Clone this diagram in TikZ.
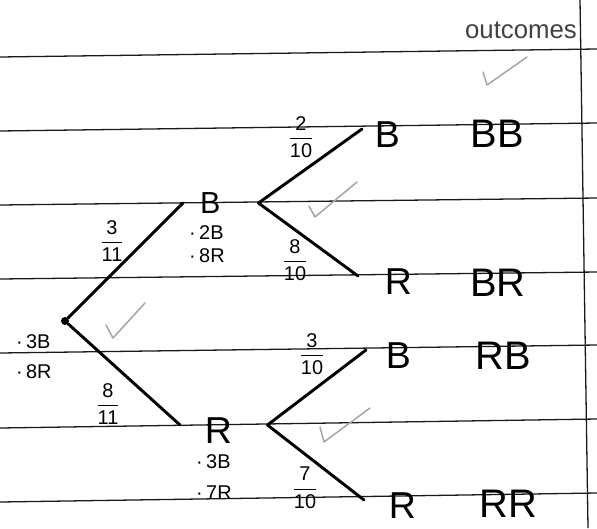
\documentclass[tikz,border=0pt]{standalone}
\usepackage{amsmath}
\usepackage{fontspec}
\setmainfont{Liberation Sans}
\usepackage{tikz}
\newcommand{\fr}[2]{$\genfrac{}{}{0.9pt}{0}{\mbox{#1}}{\mbox{#2}}$}

\begin{document}
\begin{tikzpicture}[
    x=0.03cm, y=-0.03cm,
    rule/.style={line width=1.1pt, black!90},
    branch/.style={line width=2.5pt, line cap=round},
    fork/.style={anchor=west, inner ysep=0pt, align=left, font=\fontsize{26}{28}\selectfont},
    leaf/.style={anchor=west, inner ysep=0pt, text height=31pt, font=\fontsize{32}{34}\selectfont},
    outcome/.style={inner sep=0pt, font=\fontsize{34}{36}\selectfont},
    tally/.style={anchor=west, inner sep=0pt, align=left},
    prob/.style={inner sep=0pt, font=\fontsize{17}{19}\selectfont},
    checkmark/.style={black!35, line width=1.3pt, line cap=round, line join=round}
]
\useasboundingbox (0,0) rectangle (597,528);
% ruled paper
\draw[rule] (0,57) -- (597,49);
\draw[rule] (0,131) -- (597,123);
\draw[rule] (0,205) -- (597,198);
\draw[rule] (0,279) -- (597,272);
\draw[rule] (0,353) -- (597,345);
\draw[rule] (0,428) -- (597,419);
\draw[rule] (0,502) -- (597,493);
\draw[rule] (580,0) -- (588,528);

\node[font=\fontsize{22}{24}\selectfont, text=black!75, inner sep=0pt] (head) at (521,30) {outcomes};

% tree
\node[circle, fill, inner sep=0pt, minimum size=0.24cm] (root) at (65,321) {};
\node[fork, inner xsep=0.51cm, text width=1.23cm] (B1) at (183,203) {B};
\node[fork, inner xsep=0.74cm, text width=1.13cm, text height=31pt, font=\fontsize{32}{34}\selectfont] (R1) at (180,425) {R};
\node[leaf, inner xsep=0.38cm] (BB) at (362,129) {B};
\node[leaf, inner xsep=0.8cm] (BR) at (358,276) {R};
\node[leaf, inner xsep=0.59cm] (RB) at (366,350) {B};
\node[leaf, inner xsep=0.74cm] (RR) at (364,500) {R};

\draw[branch] (root) -- (B1.west);
\draw[branch] (root) -- (R1.west);
\draw[branch] (B1.east) -- (BB.west);
\draw[branch] (B1.east) -- (BR.west);
\draw[branch] (R1.east) -- (RB.west);
\draw[branch] (R1.east) -- (RR.west);

% probabilities
\node[prob] (p1) at (112,241) {\fr{3}{11}};
\node[prob] (p2) at (108,404) {\fr{8}{11}};
\node[prob] (p3) at (301,137) {\fr{2}{10}};
\node[prob] (p4) at (295,260) {\fr{8}{10}};
\node[prob] (p5) at (312,354) {\fr{3}{10}};
\node[prob] (p6) at (305,488) {\fr{7}{10}};

% marbles left
\node[tally, font=\fontsize{17}{25.5}\selectfont] (t0) at (16,357) {·\,3B\\·\,8R};
\node[tally, font=\fontsize{17}{19.5}\selectfont] (t1) at (189,244) {·\,2B\\·\,8R};
\node[tally, font=\fontsize{17}{26}\selectfont] (t2) at (196,477) {·\,3B\\·\,7R};

% outcomes
\node[outcome] (oBB) at (497,134) {BB};
\node[outcome] (oBR) at (498,283) {BR};
\node[outcome] (oRB) at (503,356) {RB};
\node[outcome] (oRR) at (508,504) {RR};

% ticks
\draw[checkmark] (483,72) -- (487,85) -- (527,57);
\draw[checkmark] (106,325) -- (113,338) -- (145,303);
\draw[checkmark] (309,206) -- (315,217) -- (357,182);
\draw[checkmark] (320,427) -- (324,442) -- (370,408);
\end{tikzpicture}
\end{document}
